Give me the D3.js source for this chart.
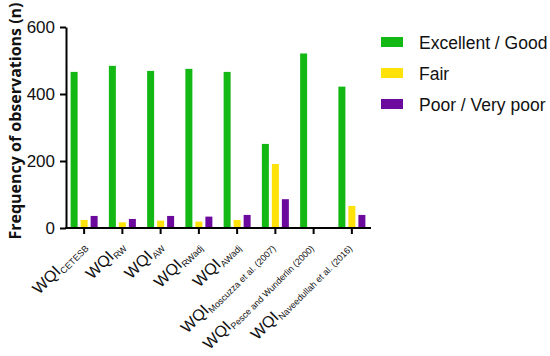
<!DOCTYPE html>
<html>
<head>
<meta charset="utf-8">
<script src="https://cdn.jsdelivr.net/npm/d3@7"></script>
<style>
  body { margin: 0; background: #fff; }
  text { font-family: Arial, "Liberation Sans", sans-serif; }
</style>
</head>
<body>
<script>
// data
const indices = ['CETESB', 'RW', 'AW', 'RWadj', 'AWadj',
  'Moscuzza et al. (2007)', 'Pesce and Wunderlin (2000)', 'Naveedullah et al. (2016)']
const series = ['Excellent / Good', 'Fair', 'Poor / Very poor']
const excellentGood = [466, 484, 469, 475, 466, 251, 521, 422]
const fair = [24, 17, 22, 19, 24, 191, 0, 66]
const poorVeryPoor = [36, 27, 36, 34, 39, 86, 0, 39]
const yTicks = [0, 200, 400, 600]
const colors = ['#14b814', '#ffe20a', '#6c0a9e']

const values = [excellentGood, fair, poorVeryPoor]
let rows = indices.map((name, i) => ({ name, v: series.map((s, j) => ({ s, val: values[j][i] })) }))

let width = 550, height = 356
let svg = d3.select('body').append('svg')
  .attr('width', width)
  .attr('height', height)

let x0 = d3.scaleBand().domain(indices).range([65, 371])
let x1 = d3.scaleBand().domain(series).range([-15, 15]).paddingInner(0.3).paddingOuter(0.15)
let y = d3.scaleLinear().domain([0, 600]).range([228, 27])

// bars
let groups = svg.append('g').selectAll('g').data(rows).join('g')
  .attr('transform', d => `translate(${x0(d.name) + x0.bandwidth() / 2},0)`)
groups.selectAll('rect').data(d => d.v).join('rect')
  .attr('x', d => x1(d.s))
  .attr('width', x1.bandwidth())
  .attr('y', d => y(d.val))
  .attr('height', d => y(0) - y(d.val))
  .attr('fill', (d, i) => colors[i])

// y axis
let yAxis = svg.append('g').attr('transform', 'translate(66,0)')
  .call(d3.axisLeft(y).tickValues(yTicks).tickSize(6).tickPadding(5).tickSizeOuter(0))
yAxis.select('.domain').attr('stroke-width', 2)
yAxis.selectAll('.tick line').attr('stroke-width', 2)
yAxis.selectAll('.tick text').style('font-size', '17px').attr('fill', '#111')

// x axis
let xAxis = svg.append('g').attr('transform', `translate(0,${y(0)})`)
  .call(d3.axisBottom(x0).tickSize(6).tickSizeOuter(0).tickFormat(''))
xAxis.select('.domain').attr('stroke-width', 2).attr('d', 'M65,0H371')
xAxis.selectAll('.tick line').attr('stroke-width', 2)

// rotated index labels
let lab = svg.append('g').selectAll('text').data(indices).join('text')
  .attr('transform', d => `translate(${x0(d) + x0.bandwidth() / 2 + (d.length > 6 ? -1 : 3)},${y(0) + 19}) rotate(-45)`)
  .attr('text-anchor', 'end')
  .style('font-size', '16px')
  .attr('fill', '#111')
lab.append('tspan').text('WQI')
lab.append('tspan').text(d => d)
  .attr('dy', 3)
  .style('font-size', '9px')

// y label
svg.append('text')
  .attr('transform', `translate(21,${121}) rotate(-90)`)
  .attr('text-anchor', 'middle')
  .style('font-family', '"Open Sans", sans-serif')
  .style('font-weight', 'bold')
  .style('font-size', '16px')
  .attr('fill', '#111')
  .text('Frequency of observations  (n)')

// legend
let legend = svg.append('g').selectAll('g').data(series).join('g')
  .attr('transform', (d, i) => `translate(381,${37 + i * 31})`)
legend.append('rect').attr('width', 22).attr('height', 10).attr('fill', (d, i) => colors[i])
legend.append('text').attr('x', 38).attr('y', 12)
  .style('font-size', '17.5px').attr('fill', '#111')
  .text(d => d)
</script>
</body>
</html>
